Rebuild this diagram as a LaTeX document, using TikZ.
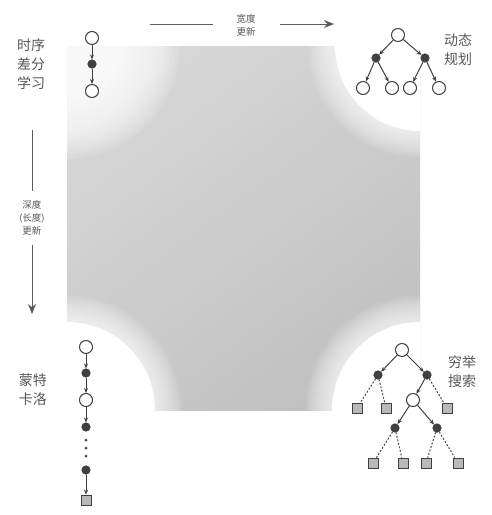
\documentclass[tikz,border=0pt]{standalone}
\usepackage{fontspec}
\newfontfamily\cjk{Noto Sans CJK SC}
\usetikzlibrary{arrows.meta,shadings}
\definecolor{ink}{HTML}{404040}
\definecolor{txt}{HTML}{585858}
\tikzset{
  opn/.style={circle, draw=ink, fill=white, line width=1pt, minimum size=13pt, inner sep=0pt},
  fil/.style={circle, draw=ink, fill=ink, line width=0.6pt, minimum size=8.5pt, inner sep=0pt},
  sq/.style={rectangle, draw=ink, fill=gray!55, line width=0.8pt, minimum size=10pt, inner sep=0pt},
  arr/.style={draw=ink, line width=1pt, -{Stealth[length=5pt,width=4pt]}},
  dsh/.style={draw=ink, line width=1pt, dash pattern=on 1.8pt off 1.8pt},
  lbl/.style={font=\cjk\fontsize{14}{19}\selectfont, text=txt, align=center, inner sep=0pt},
  slbl/.style={font=\cjk\fontsize{9.5}{13}\selectfont, text=txt, align=center, fill=white},
  big/.style={draw=ink!85, line width=0.9pt, -{Stealth[length=10pt,width=8pt]}}
}
\begin{document}
\begin{tikzpicture}[x=1pt,y=-1pt]
\useasboundingbox (0,0) rectangle (492,515);
\fill[white] (0,0) rectangle (492,515);
% shaded square
\begin{scope}
\clip (67,46) rectangle (420,410);
\shade[upper left=gray!28, upper right=gray!38, lower left=gray!42, lower right=gray!52] (67,46) rectangle (420,410);
% soft top-left corner
\foreach \k in {0,...,15}{
  \fill[white, opacity=0.13] (67,46) circle ({52+4*\k});
}
% hard corners with soft halo
\foreach \c/\r in {{(420,46)}/85, {(67,410)}/88, {(420,410)}/88}{
  \foreach \k in {1,...,12}{
    \fill[white, opacity=0.09] \c circle ({\r+2.2*\k});
  }
  \fill[white] \c circle (\r);
}
\end{scope}

% top arrow
\coordinate (ha) at (150,24);
\coordinate (hb) at (334,24);
\draw[big] (ha) -- (hb);
\node[slbl, inner xsep=24pt, inner ysep=1pt] (hl) at (246,25) {宽度\\更新};

% left arrow
\coordinate (va) at (32,130);
\coordinate (vb) at (32,314);
\draw[big] (va) -- (vb);
\node[slbl, inner ysep=10pt, inner xsep=1pt] (vl) at (32,218) {深度\\(长度)\\更新};

% top-left: TD
\node[lbl] (tdl) at (31,64) {时序\\差分\\学习};
\node[opn] (t1) at (92,38) {};
\node[fil] (t2) at (92,64) {};
\node[opn] (t3) at (92,91) {};
\draw[arr] (t1) -- (t2);
\draw[arr] (t2) -- (t3);

% top-right: DP
\node[lbl] (dpl) at (458,50) {动态\\规划};
\node[opn] (d0) at (398,35) {};
\node[fil] (d1) at (376,58) {};
\node[fil] (d2) at (425,58) {};
\node[opn] (d3) at (363,88) {};
\node[opn] (d4) at (392,88) {};
\node[opn] (d5) at (410,88) {};
\node[opn] (d6) at (439,88) {};
\draw[arr] (d0) -- (d1);
\draw[arr] (d0) -- (d2);
\draw[arr] (d1) -- (d3);
\draw[arr] (d1) -- (d4);
\draw[arr] (d2) -- (d5);
\draw[arr] (d2) -- (d6);

% bottom-left: MC
\node[lbl] (mcl) at (33,390) {蒙特\\卡洛};
\node[opn] (m1) at (86,347) {};
\node[fil] (m2) at (86,373) {};
\node[opn] (m3) at (86,400) {};
\node[fil] (m4) at (86,427) {};
\node[fill=ink, circle, inner sep=0pt, minimum size=3pt] (md1) at (86,440) {};
\node[fill=ink, circle, inner sep=0pt, minimum size=3pt] (md2) at (86,448) {};
\node[fill=ink, circle, inner sep=0pt, minimum size=3pt] (md3) at (86,456) {};
\node[fil] (m5) at (86,470) {};
\node[sq] (m6) at (86,500) {};
\draw[arr] (m1) -- (m2);
\draw[arr] (m2) -- (m3);
\draw[arr] (m3) -- (m4);
\draw[arr] (m5) -- (m6);

% bottom-right: exhaustive search
\node[lbl] (exl) at (462,372) {穷举\\搜索};
\node[opn] (e0) at (402,350) {};
\node[fil] (e1) at (378,375) {};
\node[fil] (e2) at (427,375) {};
\node[sq] (s1) at (357,408) {};
\node[sq] (s2) at (386,408) {};
\node[sq] (s3) at (447,408) {};
\node[opn] (e3) at (413,400) {};
\node[fil] (e4) at (395,428) {};
\node[fil] (e5) at (437,428) {};
\node[sq] (s4) at (373,463) {};
\node[sq] (s5) at (403,463) {};
\node[sq] (s6) at (426,463) {};
\node[sq] (s7) at (458,463) {};
\draw[arr] (e0) -- (e1);
\draw[arr] (e0) -- (e2);
\draw[arr] (e2) -- (e3);
\draw[arr] (e3) -- (e4);
\draw[arr] (e3) -- (e5);
\draw[dsh] (e1) -- (s1);
\draw[dsh] (e1) -- (s2);
\draw[dsh] (e2) -- (s3);
\draw[dsh] (e4) -- (s4);
\draw[dsh] (e4) -- (s5);
\draw[dsh] (e5) -- (s6);
\draw[dsh] (e5) -- (s7);
\end{tikzpicture}
\end{document}
